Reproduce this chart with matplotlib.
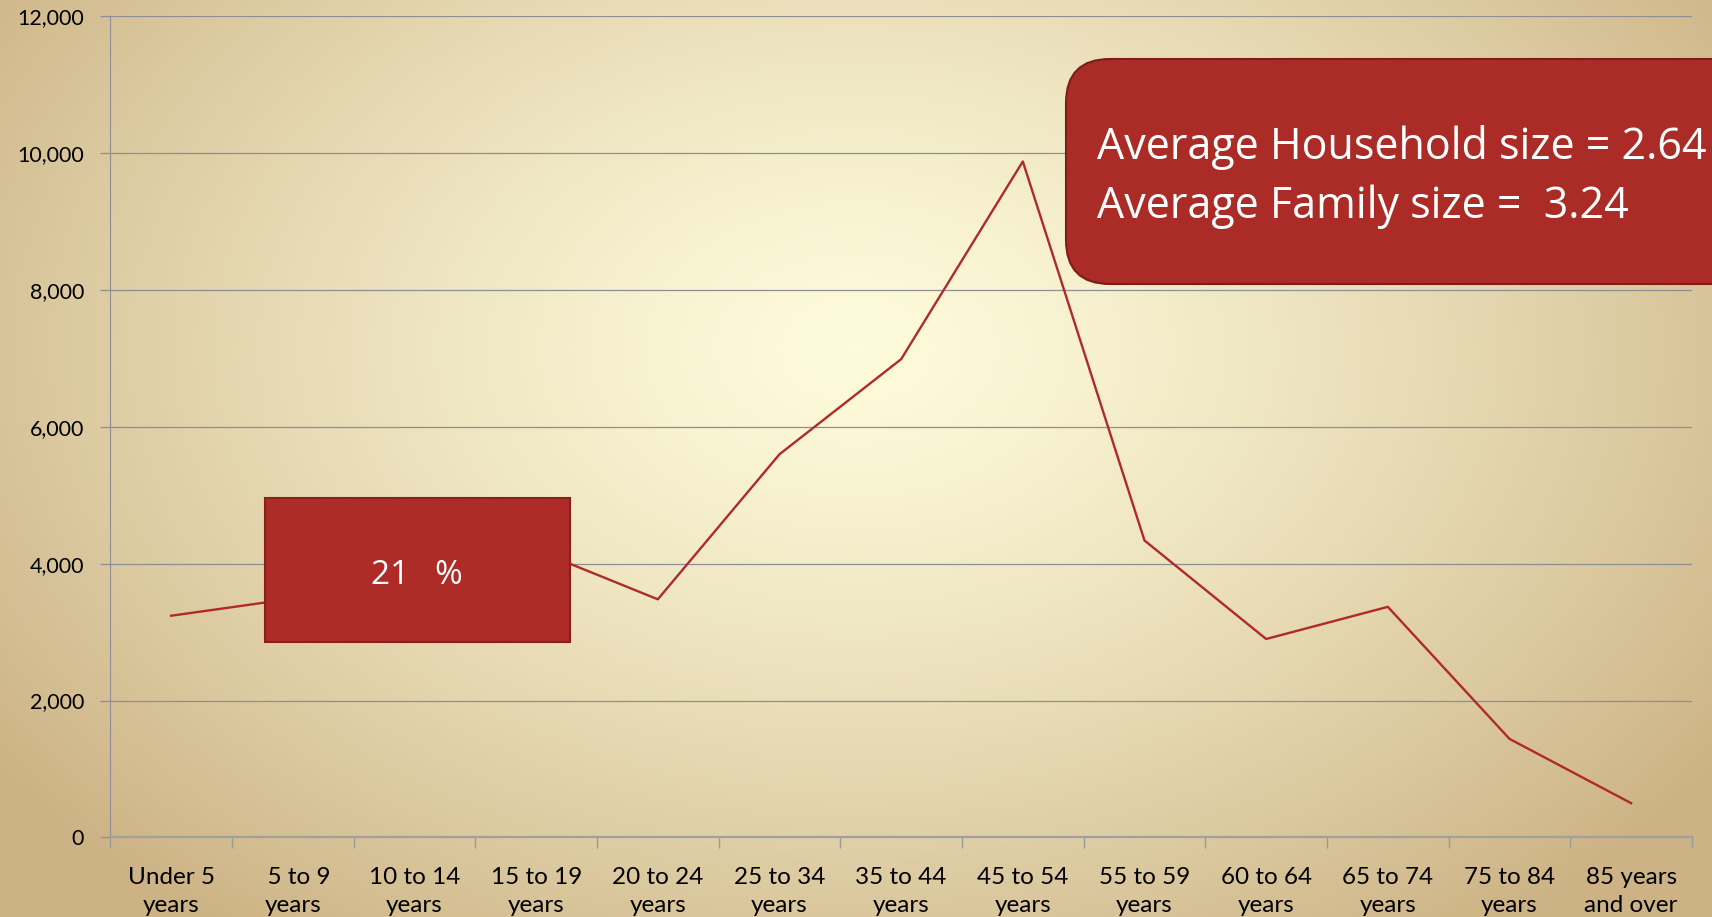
import numpy as np
import matplotlib
matplotlib.use("Agg")
from matplotlib import pyplot as plt
from matplotlib.patches import FancyBboxPatch, Rectangle

# age groups and population counts
age_groups = ["Under 5\nyears", "  5 to 9\nyears", "10 to 14\nyears", "15 to 19\nyears",
              "20 to 24\nyears", "25 to 34\nyears", "35 to 44\nyears", "45 to 54\nyears",
              "55 to 59\nyears", "60 to 64\nyears", "65 to 74\nyears", "75 to 84\nyears",
              "85 years\nand over"]
population = [3240, 3490, 3900, 4200, 3480, 5600, 6990, 9880, 4340, 2900, 3370, 1440, 500]
y_ticks = [0, 2000, 4000, 6000, 8000, 10000, 12000]
share_text = "21   %"
size_lines = ["Average Household size = 2.64", "Average Family size =  3.24"]

W, H = 1712, 917
fig = plt.figure(figsize=(W / 100, H / 100), dpi=100)

# background gradient
bg = fig.add_axes([0, 0, 1, 1], zorder=0)
gx, gy = np.meshgrid(np.linspace(0, 1, 400), np.linspace(0, 1, 220))
r = np.sqrt(((gx - 0.5) / 0.62) ** 2 + ((gy - 0.38) / 0.8) ** 2)
r = np.clip(r, 0, 1) ** 1.3
c_in = np.array([0.995, 0.985, 0.86])
c_out = np.array([0.80, 0.70, 0.52])
img = c_in + (c_out - c_in) * r[..., None]
bg.imshow(img, extent=[0, 1, 0, 1], aspect="auto", origin="upper")
bg.axis("off")

ax = fig.add_axes([110.3 / W, 1 - 837.4 / H, (1692 - 110.3) / W, (837.4 - 16.4) / H], zorder=1)
ax.patch.set_alpha(0)
x = np.arange(len(age_groups))
ax.plot(x, population, color="#B02A27", lw=1.7, zorder=3)

ax.set_xlim(-0.5, len(age_groups) - 0.5)
ax.set_ylim(0, 12000)
ax.set_yticks(y_ticks)
ax.set_yticklabels([f"{v:,}" for v in y_ticks], fontsize=15.5, family="Lato")
ax.yaxis.grid(True, color="#8E8E96", lw=0.9)
ax.set_axisbelow(True)
ax.set_xticks(x)
ax.set_xticklabels(age_groups, fontsize=17.5, family="Lato", linespacing=1.42)
ax.set_xticks(np.arange(-0.5, len(age_groups)), minor=True)
ax.tick_params(axis="x", which="major", length=0, pad=21)
ax.tick_params(axis="x", which="minor", length=8, color="#9A9A9A", width=1)
ax.tick_params(axis="y", length=7, color="#8E8E96", width=0.9, pad=12)
for s in ["top", "right"]:
    ax.spines[s].set_visible(False)
ax.spines["left"].set_color("#8E8E96")
ax.spines["bottom"].set_color("#A0A0A0")
ax.spines["bottom"].set_linewidth(1.6)

# overlay in pixel coordinates for the boxes
ov = fig.add_axes([0, 0, 1, 1], zorder=2)
ov.set_xlim(0, W)
ov.set_ylim(H, 0)
ov.axis("off")
ov.patch.set_alpha(0)

ov.add_patch(Rectangle((265, 498), 305, 144, facecolor="#AD2C27", edgecolor="#8A1F1B", lw=1.5))
ov.text(417, 576, share_text, color="white", fontsize=24, family="Open Sans",
        ha="center", va="center")

ov.add_patch(FancyBboxPatch((1066, 59), 700, 225, boxstyle="round,pad=0,rounding_size=44",
                            facecolor="#AB2B27", edgecolor="#7E1C18", lw=1.5))
ov.text(1097, 148, size_lines[0], color="white", fontsize=31, family="Open Sans",
        ha="left", va="center")
ov.text(1097, 207, size_lines[1], color="white", fontsize=31, family="Open Sans",
        ha="left", va="center")

fig.savefig("out.png", dpi=100)
